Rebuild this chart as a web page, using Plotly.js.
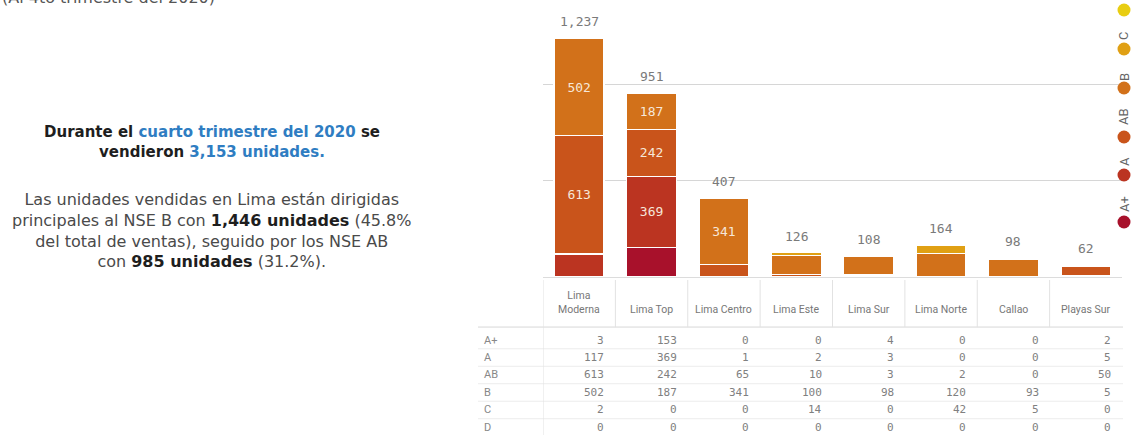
<!DOCTYPE html>
<html>
<head>
<meta charset="utf-8">
<script src="https://cdn.plot.ly/plotly-3.0.1.min.js"></script>
<style>
  html, body { margin: 0; padding: 0; background: #fff; }
  #chart { width: 1133px; height: 435px; }
</style>
</head>
<body>
<div id="chart"></div>
<script>
// ---- data ----
const districts = ["Lima Moderna", "Lima Top", "Lima Centro", "Lima Este", "Lima Sur", "Lima Norte", "Callao", "Playas Sur"];
const headerLabels = ["Lima<br>Moderna", "Lima Top", "Lima Centro", "Lima Este", "Lima Sur", "Lima Norte", "Callao", "Playas Sur"];
const nse = ["A+", "A", "AB", "B", "C", "D"];
const valAplus = [3, 153, 0, 0, 4, 0, 0, 2];
const valA     = [117, 369, 1, 2, 3, 0, 0, 5];
const valAB    = [613, 242, 65, 10, 3, 2, 0, 50];
const valB     = [502, 187, 341, 100, 98, 120, 93, 5];
const valC     = [2, 0, 0, 14, 0, 42, 5, 0];
const valD     = [0, 0, 0, 0, 0, 0, 0, 0];
const series = [valAplus, valA, valAB, valB, valC, valD];
const colors = ["#a8112b", "#bb3421", "#c9541b", "#d2711a", "#e0a014", "#e8cd12"];

// ---- helpers ----
const W = 1133, H = 435;
const PX = p => p / W;
const PY = p => 1 - p / H;
const mono = "DejaVu Sans Mono, monospace";
const sans = "Roboto, sans-serif";
const textFont = "DejaVu Sans, sans-serif";
const fmt = v => v.toLocaleString("en-US");

const traces = series.map((vals, k) => ({
  type: "bar",
  name: nse[k],
  x: districts,
  y: vals,
  marker: { color: colors[k], line: { color: "#ffffff", width: 1.5 } },
  text: vals.map(v => (v >= 180 ? String(v) : "")),
  textposition: "inside",
  insidetextanchor: "middle",
  textangle: 0,
  constraintext: "none",
  textfont: { family: mono, size: 13, color: "#f6e7d9" },
  hoverinfo: "skip",
  showlegend: false
}));

// invisible trace establishing the table's row axis
traces.push({
  type: "scatter", mode: "markers", x: [districts[0]], y: [nse[0]],
  xaxis: "x", yaxis: "y2", marker: { opacity: 0 }, hoverinfo: "skip", showlegend: false
});

const totals = districts.map((d, i) => series.reduce((s, arr) => s + arr[i], 0));

const annotations = [];
const shapes = [];

// totals above bars
totals.forEach((t, i) => {
  annotations.push({
    x: i, y: t, xref: "x", yref: "y", text: fmt(t), showarrow: false,
    yanchor: "bottom", yshift: 7, font: { family: mono, size: 13, color: "#7a7a7a" }
  });
});

// ---- table (row axis y2: row index, reversed) ----
headerLabels.forEach((h, i) => {
  annotations.push({
    x: i, y: -1.26, xref: "x", yref: "y2", text: h, showarrow: false,
    yanchor: "bottom", xanchor: "center", align: "center",
    font: { family: sans, size: 10.5, color: "#777" }
  });
});
nse.forEach((n, r) => {
  annotations.push({
    x: PX(482), y: r, xref: "paper", yref: "y2", text: n, showarrow: false,
    xanchor: "left", font: { family: sans, size: 11, color: "#888" }
  });
  series[r].forEach((v, i) => {
    annotations.push({
      x: i + 0.5, y: r, xref: "x", yref: "y2", text: fmt(v), showarrow: false,
      xanchor: "right", xshift: -9, font: { family: mono, size: 11, color: "#808080" }
    });
  });
});
// header bottom line
shapes.push({ type: "line", xref: "paper", yref: "y2", x0: PX(478), x1: PX(1123), y0: -0.74, y1: -0.74,
  line: { color: "#d8d8d8", width: 1 } });
// row separator lines
for (let r = 0; r < nse.length - 1; r++) {
  shapes.push({ type: "line", xref: "paper", yref: "y2", x0: PX(478), x1: PX(1123), y0: r + 0.5, y1: r + 0.5,
    line: { color: "#ececec", width: 1 } });
}
// header column separators
for (let i = 0; i < districts.length; i++) {
  shapes.push({ type: "line", xref: "x", yref: "y2", x0: i - 0.5, x1: i - 0.5,
    y0: -3.43, y1: i === 0 ? 5.43 : -0.74, line: { color: "#e2e2e2", width: 1 } });
}

// ---- vertical legend on the right ----
const legCircleY = [222, 175, 137, 88, 49, 10];
const legLabelY = [204, 162, 117, 77, 36, -4];
nse.forEach((n, k) => {
  const cy = legCircleY[k], cx = 1124, r = 6.5;
  shapes.push({ type: "circle", xref: "paper", yref: "paper",
    x0: PX(cx - r), x1: PX(cx + r), y0: PY(cy + r), y1: PY(cy - r),
    fillcolor: colors[k], line: { width: 0 } });
  annotations.push({ x: PX(cx), y: PY(legLabelY[k]), xref: "paper", yref: "paper",
    text: n, textangle: -90, showarrow: false, xanchor: "center", yanchor: "middle",
    font: { family: sans, size: 13, color: "#666" } });
});

// ---- text block on the left ----
const blue = "#2f7dc2";
annotations.push({
  x: PX(0), y: PY(-2), xref: "paper", yref: "paper", xanchor: "left", yanchor: "middle",
  showarrow: false, text: "(Al 4to trimestre del 2020)",
  font: { family: textFont, size: 16, color: "#555" }
});
annotations.push({
  x: PX(212), y: PY(142), xref: "paper", yref: "paper", xanchor: "center", yanchor: "middle",
  showarrow: false, align: "center",
  text: "<b>Durante el <span style='color:" + blue + "'>cuarto trimestre del 2020</span> se</b><br>" +
        "<b>vendieron <span style='color:" + blue + "'>3,153 unidades.</span></b>",
  font: { family: textFont, size: 15, color: "#1e1e1e" }
});
annotations.push({
  x: PX(211), y: PY(230), xref: "paper", yref: "paper", xanchor: "center", yanchor: "middle",
  showarrow: false, align: "center",
  text: "Las unidades vendidas en Lima están dirigidas<br>" +
        "principales al NSE B con <b><span style='color:#1e1e1e'>1,446 unidades</span></b> (45.8%<br>" +
        "del total de ventas), seguido por los NSE AB<br>" +
        "con <b><span style='color:#1e1e1e'>985 unidades</span></b> (31.2%).",
  font: { family: textFont, size: 16, color: "#4a4a4a" }
});

const layout = {
  width: W, height: H,
  margin: { l: 0, r: 0, t: 0, b: 0 },
  paper_bgcolor: "#ffffff", plot_bgcolor: "#ffffff",
  barmode: "stack", bargap: 0.31,
  showlegend: false,
  hovermode: false,
  xaxis: {
    type: "category", domain: [PX(543), PX(1122)], range: [-0.5, 7.5],
    showticklabels: false, showgrid: false, zeroline: false, showline: false, ticks: "", fixedrange: true
  },
  yaxis: {
    domain: [PY(277), PY(6.8)], range: [0, 1400], tickvals: [0, 500, 1000],
    showticklabels: false, showgrid: true, gridcolor: "#d6d6d6", gridwidth: 1,
    zeroline: true, zerolinecolor: "#dcdcdc", zerolinewidth: 1, ticks: "", fixedrange: true
  },
  yaxis2: {
    type: "category", categoryorder: "array", categoryarray: nse,
    domain: [0, PY(280)], range: [5.43, -3.43], anchor: "x",
    visible: false, showgrid: false, zeroline: false, fixedrange: true
  },
  annotations: annotations,
  shapes: shapes
};

Plotly.newPlot("chart", traces, layout, { displayModeBar: false, staticPlot: true });
</script>
</body>
</html>
